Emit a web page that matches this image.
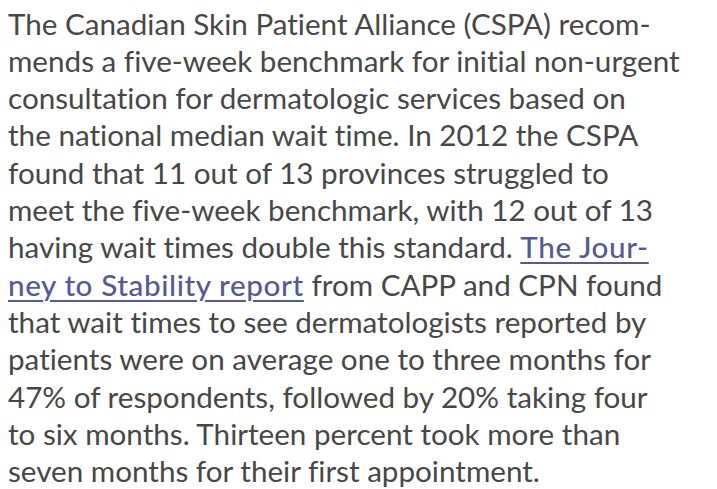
<!DOCTYPE html>
<html>
<head>
<meta charset="utf-8">
<script src="https://cdn.jsdelivr.net/npm/chart.js@4"></script>
<style>
  html, body { margin: 0; padding: 0; background: #fff; }
  body { width: 717px; height: 489px; overflow: hidden; }
  #text {
    position: absolute; left: 8px; top: 0;
    font-family: Lato, "Noto Sans", sans-serif;
    font-weight: 400;
    font-variant-ligatures: none;
    color: #474747;
  }
  .line { white-space: nowrap; }
  a { color: #525b96; font-weight: 500; letter-spacing: 0.6px; text-decoration: underline; text-underline-offset: 4px; text-decoration-thickness: 1.5px; }
</style>
</head>
<body>
<div id="text"></div>
<script>
/* --- Texto: líneas tal como se cortan en la imagen --- */
const lines = [
  'The Canadian Skin Patient Alliance (CSPA) recom-',
  'mends a five-week benchmark for initial non-urgent',
  'consultation for dermatologic services based on',
  'the national median wait time. In 2012 the CSPA',
  'found that 11 out of 13 provinces struggled to',
  'meet the five-week benchmark, with 12 out of 13',
  'having wait times double this standard. [The Jour-]',
  '[ney to Stability report] from CAPP and CPN found',
  'that wait times to see dermatologists reported by',
  'patients were on average one to three months for',
  '47% of respondents, followed by 20% taking four',
  'to six months. Thirteen percent took more than',
  'seven months for their first appointment.'
];
const firstLineWidth = 672;
const lineHeight = 37.3;

const box = document.getElementById('text');
lines.forEach(l => {
  const div = document.createElement('div');
  div.className = 'line';
  const parts = l.split(/(\[[^\]]*\])/);
  parts.forEach(p => {
    if (p.startsWith('[')) {
      const a = document.createElement('a');
      a.href = '#';
      a.textContent = p.slice(1, -1);
      div.appendChild(a);
    } else if (p) {
      div.appendChild(document.createTextNode(p));
    }
  });
  box.appendChild(div);
});

/* --- Ajustar tamaño de fuente al ancho de la primera línea --- */
box.style.fontSize = '100px';
const w = box.firstChild.getBoundingClientRect().width;
const size = 100 * firstLineWidth / w;
box.style.fontSize = size + 'px';
box.style.lineHeight = lineHeight + 'px';
box.style.top = (33 - lineHeight / 2 - size * 0.33) + 'px';
</script>
</body>
</html>
